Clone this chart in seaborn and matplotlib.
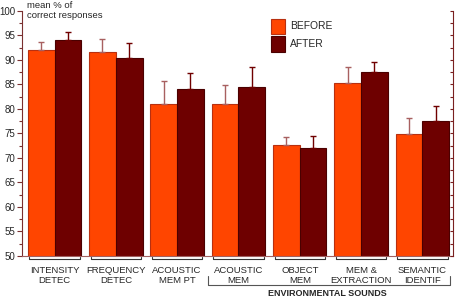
import pandas as pd
import numpy as np
import matplotlib
matplotlib.use('Agg')
import matplotlib.pyplot as plt
import seaborn as sns
from matplotlib.ticker import MultipleLocator

# Data
categories = ['INTENSITY\nDETEC', 'FREQUENCY\nDETEC', 'ACOUSTIC\nMEM PT', 'ACOUSTIC\nMEM',
              'OBJECT\nMEM', 'MEM &\nEXTRACTION', 'SEMANTIC\nIDENTIF']
before = [91.9, 91.6, 81.0, 80.9, 72.6, 85.3, 74.9]
after = [94.0, 90.3, 84.0, 84.4, 72.1, 87.5, 77.5]
before_err = [1.8, 2.6, 4.6, 4.0, 1.6, 3.2, 3.2]
after_err = [1.6, 3.1, 3.4, 4.1, 2.4, 2.1, 3.1]
conditions = ['BEFORE', 'AFTER']

df = pd.DataFrame({
    'task': categories * 2,
    'condition': ['BEFORE'] * len(categories) + ['AFTER'] * len(categories),
    'score': before + after,
    'err': before_err + after_err,
})

sns.set_style('white')
plt.rcParams['font.family'] = ['Liberation Sans', 'DejaVu Sans']

colors = {'BEFORE': '#FF4500', 'AFTER': '#6E0000'}
edges = {'BEFORE': '#B83010', 'AFTER': '#4A0000'}
err_colors = {'BEFORE': '#A86060', 'AFTER': '#700000'}

fig = plt.figure(figsize=(4.59, 2.99), dpi=100)
ax = fig.add_axes([0.048, 0.144, 0.939, 0.82])

sns.barplot(data=df, x='task', y='score', hue='condition', hue_order=conditions,
            palette=colors, saturation=1, width=0.87, errorbar=None, ax=ax,
            legend=False)

# edges and one-sided error bars
patches = [p for p in ax.patches]
n = len(categories)
for k, cond in enumerate(conditions):
    vals = df[df['condition'] == cond]
    for i in range(n):
        p = patches[k * n + i]
        p.set_edgecolor(edges[cond])
        p.set_linewidth(0.8)
        xc = p.get_x() + p.get_width() / 2
        h = p.get_height()
        e = vals['err'].iloc[i]
        ax.errorbar(xc, h, yerr=[[0], [e]], fmt='none', ecolor=err_colors[cond],
                    elinewidth=1.0, capsize=2.0, capthick=1.0, zorder=3)

ax.set_ylim(50, 100)
ax.set_xlim(-0.53, 6.5)
ax.yaxis.set_major_locator(MultipleLocator(5))
ax.yaxis.set_minor_locator(MultipleLocator(2.5))
ax.tick_params(axis='y', which='major', left=True, direction='out', length=3.5,
               width=0.8, color='#7A3030', labelsize=7, pad=1.5)
ax.tick_params(axis='y', which='minor', left=True, direction='out', length=2,
               width=0.8, color='#7A3030')
ax.tick_params(axis='x', bottom=False, labelsize=6.8, pad=3.5)
ax.set_xlabel('')
ax.set_ylabel('')

ax.spines['top'].set_visible(False)
ax.spines['left'].set_color('#7A3030')
ax.spines['bottom'].set_color('#A06060')
ax.spines['right'].set_visible(False)

# right axis with inward ticks
ax2 = ax.twinx()
ax2.set_ylim(50, 100)
ax2.yaxis.set_major_locator(MultipleLocator(5))
ax2.yaxis.set_minor_locator(MultipleLocator(2.5))
ax2.tick_params(axis='y', which='both', right=True, direction='in', length=2.5,
                width=0.8, color='#7A2020', labelright=False)
for s in ['top', 'left', 'bottom']:
    ax2.spines[s].set_visible(False)
ax2.spines['right'].set_color('#7A2020')

# group brackets below the axis
trans = ax.get_xaxis_transform()
for i in range(n):
    ax.plot([i - 0.41, i - 0.41, i + 0.41, i + 0.41], [-0.006, -0.011, -0.011, -0.006],
            transform=trans, color='#333333', lw=0.8, clip_on=False)
ax.plot([2.5, 2.5, 6.45, 6.45], [-0.082, -0.118, -0.118, -0.082],
        transform=trans, color='#555555', lw=0.8, clip_on=False)
ax.text(4.45, -0.152, 'ENVIRONMENTAL SOUNDS', transform=trans, ha='center',
        va='center', fontsize=6.5, fontweight='bold')

ax.text(0.012, 1.04, 'mean % of\ncorrect responses', transform=ax.transAxes,
        ha='left', va='top', fontsize=6.8, linespacing=1.15)

handles = [plt.Rectangle((0, 0), 1, 1, facecolor=colors[c], edgecolor=edges[c], lw=0.8)
           for c in conditions]
ax.legend(handles, conditions, loc='upper left', bbox_to_anchor=(0.569, 0.985),
          frameon=False, fontsize=7.4, handlelength=1.3, handleheight=1.9,
          labelspacing=0.25, handletextpad=0.5, borderaxespad=0)

fig.savefig('out.png', dpi=100)
